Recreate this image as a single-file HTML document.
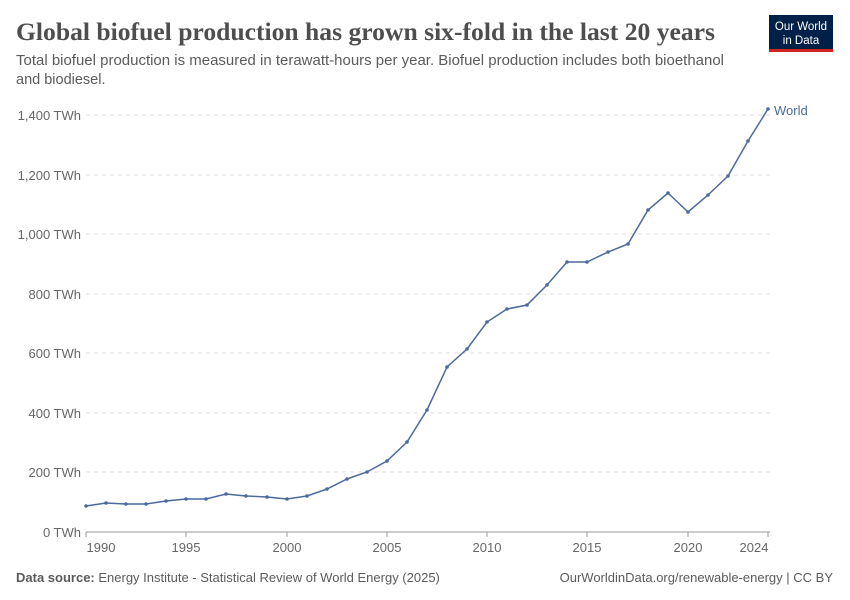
<!DOCTYPE html>
<html><head><meta charset="utf-8"><style>body{margin:0;background:#fff}svg{display:block}</style></head><body>
<svg width="850" height="600" viewBox="0 0 850 600" xmlns="http://www.w3.org/2000/svg" font-family="Liberation Sans, sans-serif">
<rect width="850" height="600" fill="#fff"/>
<text x="16" y="40" font-family="Liberation Serif, serif" font-size="25" font-weight="bold" fill="#4e4e4e" textLength="699" lengthAdjust="spacingAndGlyphs">Global biofuel production has grown six-fold in the last 20 years</text>
<text x="16" y="65" font-size="14.5" fill="#5b5b5b" textLength="708" lengthAdjust="spacingAndGlyphs">Total biofuel production is measured in terawatt-hours per year. Biofuel production includes both bioethanol</text>
<text x="16" y="84" font-size="14.5" fill="#5b5b5b">and biodiesel.</text>
<rect x="769" y="15" width="64" height="35" fill="#002147"/>
<rect x="769" y="49" width="64" height="3" fill="#ce261e"/>
<text x="801" y="30" font-size="11.5" fill="#fff" text-anchor="middle">Our World</text>
<text x="801" y="44" font-size="11.5" fill="#fff" text-anchor="middle">in Data</text>
<g stroke="#ddd" stroke-dasharray="4,4">
<line x1="86" x2="770" y1="115" y2="115"/><line x1="86" x2="770" y1="175" y2="175"/><line x1="86" x2="770" y1="234" y2="234"/><line x1="86" x2="770" y1="294" y2="294"/><line x1="86" x2="770" y1="353" y2="353"/><line x1="86" x2="770" y1="413" y2="413"/><line x1="86" x2="770" y1="472" y2="472"/>
</g>
<line x1="86" x2="770" y1="532" y2="532" stroke="#999"/>
<g font-size="13" fill="#666" text-anchor="end">
<text x="81" y="120">1,400 TWh</text><text x="81" y="180">1,200 TWh</text><text x="81" y="239">1,000 TWh</text><text x="81" y="299">800 TWh</text><text x="81" y="358">600 TWh</text><text x="81" y="418">400 TWh</text><text x="81" y="477">200 TWh</text><text x="81" y="537">0 TWh</text>
</g>
<g stroke="#999"><line x1="86" x2="86" y1="532" y2="537"/><line x1="186" x2="186" y1="532" y2="537"/><line x1="287" x2="287" y1="532" y2="537"/><line x1="387" x2="387" y1="532" y2="537"/><line x1="487" x2="487" y1="532" y2="537"/><line x1="587" x2="587" y1="532" y2="537"/><line x1="688" x2="688" y1="532" y2="537"/><line x1="768" x2="768" y1="532" y2="537"/></g>
<g font-size="13" fill="#666" text-anchor="middle">
<text x="101" y="552">1990</text><text x="186" y="552">1995</text><text x="287" y="552">2000</text><text x="387" y="552">2005</text><text x="487" y="552">2010</text><text x="587" y="552">2015</text><text x="688" y="552">2020</text><text x="754" y="552">2024</text>
</g>
<polyline fill="none" stroke="#4c6a9c" stroke-width="1.5" points="86,506 106,503 126,504 146,504 166,501 186,499 206,499 226,494 246,496 267,497 287,499 307,496 327,489 347,479 367,472 387,461 407,442 427,410 447,367 467,349 487,322 507,309 527,305 547,285 567,262 587,262 608,252 628,244 648,210 668,193 688,212 708,195 728,176 748,141 768,109"/>
<g fill="#4c6a9c">
<circle cx="86" cy="506" r="1.8"/><circle cx="106" cy="503" r="1.8"/><circle cx="126" cy="504" r="1.8"/><circle cx="146" cy="504" r="1.8"/><circle cx="166" cy="501" r="1.8"/><circle cx="186" cy="499" r="1.8"/><circle cx="206" cy="499" r="1.8"/><circle cx="226" cy="494" r="1.8"/><circle cx="246" cy="496" r="1.8"/><circle cx="267" cy="497" r="1.8"/><circle cx="287" cy="499" r="1.8"/><circle cx="307" cy="496" r="1.8"/><circle cx="327" cy="489" r="1.8"/><circle cx="347" cy="479" r="1.8"/><circle cx="367" cy="472" r="1.8"/><circle cx="387" cy="461" r="1.8"/><circle cx="407" cy="442" r="1.8"/><circle cx="427" cy="410" r="1.8"/><circle cx="447" cy="367" r="1.8"/><circle cx="467" cy="349" r="1.8"/><circle cx="487" cy="322" r="1.8"/><circle cx="507" cy="309" r="1.8"/><circle cx="527" cy="305" r="1.8"/><circle cx="547" cy="285" r="1.8"/><circle cx="567" cy="262" r="1.8"/><circle cx="587" cy="262" r="1.8"/><circle cx="608" cy="252" r="1.8"/><circle cx="628" cy="244" r="1.8"/><circle cx="648" cy="210" r="1.8"/><circle cx="668" cy="193" r="1.8"/><circle cx="688" cy="212" r="1.8"/><circle cx="708" cy="195" r="1.8"/><circle cx="728" cy="176" r="1.8"/><circle cx="748" cy="141" r="1.8"/><circle cx="768" cy="109" r="1.8"/>
</g>
<text x="774" y="115" font-size="13" fill="#4c6a9c">World</text>
<text x="16" y="582" font-size="13" fill="#5b5b5b"><tspan font-weight="bold">Data source:</tspan> Energy Institute - Statistical Review of World Energy (2025)</text>
<text x="833" y="582" font-size="13" fill="#5b5b5b" text-anchor="end">OurWorldinData.org/renewable-energy | CC BY</text>
</svg>
</body></html>
